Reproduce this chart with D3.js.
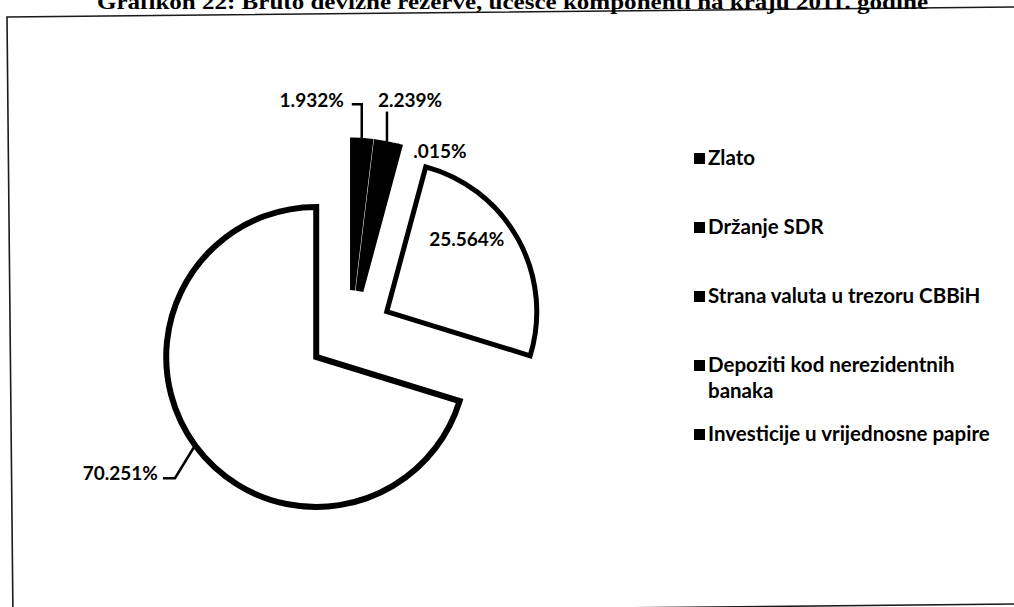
<!DOCTYPE html>
<html>
<head>
<meta charset="utf-8">
<script src="https://cdn.jsdelivr.net/npm/d3@7"></script>
<style>
  body { margin: 0; background: #fff; }
  svg { display: block; }
</style>
</head>
<body>
<div id="chart"></div>
<script>
const width = 1014;
const height = 607;

// data
const categories = ["Zlato", "Držanje SDR", "Strana valuta u trezoru CBBiH", "Depoziti kod nerezidentnih banaka", "Investicije u vrijednosne papire"];
const shares = [1.932, 2.239, 0.015, 25.564, 70.251];
const valueLabels = ["1.932%", "2.239%", ".015%", "25.564%", "70.251%"];
const legendLines = [["Zlato"], ["Držanje SDR"], ["Strana valuta u trezoru CBBiH"], ["Depoziti kod nerezidentnih", "banaka"], ["Investicije u vrijednosne papire"]];
const sliceFill = ["#000", "#000", "#000", "#fff", "#fff"];
const title = "Grafikon 22: Bruto devizne rezerve, učešće komponenti na kraju 2011. godine";

const cx = 350, cy = 332;
const radius = 150;
const explode = 42;

// where each label sits relative to the rim point at the slice's mid angle
// (or to the slice's own centre for the label drawn inside)
const labelLayout = [
  {dx: -18, dy: -31, anchor: "end", leader: [[0, -34], [-10, -34]]},
  {dx: -9, dy: -35, anchor: "start", leader: [[0, -30]]},
  {dx: 13, dy: 13, anchor: "start", leader: null},
  {dx: 80, dy: -66, anchor: "middle", leader: null, inside: true},
  {dx: -36, dy: 33, anchor: "end", leader: [[-19, 31], [-31, 31]]}
];

const svg = d3.select("#chart").append("svg")
  .attr("width", width)
  .attr("height", height);

// scanned page frame, slightly skewed
svg.append("rect")
  .attr("x", 7).attr("y", 17)
  .attr("width", 1040).attr("height", 597)
  .attr("transform", "rotate(-0.57, 7, 17)")
  .attr("fill", "none")
  .attr("stroke", "#1a1a1a")
  .attr("stroke-width", 1.6);

svg.append("text")
  .attr("x", 97).attr("y", 9)
  .attr("font-family", "Liberation Serif, serif")
  .attr("font-weight", "bold")
  .attr("font-size", 22)
  .attr("textLength", 831)
  .attr("lengthAdjust", "spacingAndGlyphs")
  .text(title);

const pie = d3.pie().sort(null).value(d => d);
const arcs = pie(shares);
const arc = d3.arc().innerRadius(0).outerRadius(radius);

function offsetOf(a) {
  const mid = (a.startAngle + a.endAngle) / 2;
  return [cx + explode * Math.sin(mid), cy - explode * Math.cos(mid)];
}
function rimPoint(a) {
  const mid = (a.startAngle + a.endAngle) / 2;
  const [ox, oy] = offsetOf(a);
  const r = radius + 2;
  return [ox + r * Math.sin(mid), oy - r * Math.cos(mid)];
}

svg.append("g")
  .selectAll("path")
  .data(arcs)
  .join("path")
  .attr("transform", d => `translate(${offsetOf(d)})`)
  .attr("d", arc)
  .attr("fill", (d, i) => sliceFill[i])
  .attr("stroke", "#000")
  .attr("stroke-width", (d, i) => i === 4 ? 6 : 5)
  .attr("stroke-linejoin", "miter");

// leader lines
svg.append("g")
  .selectAll("path")
  .data(arcs.filter((d, i) => labelLayout[i].leader))
  .join("path")
  .attr("fill", "none")
  .attr("stroke", "#000")
  .attr("stroke-width", 2.5)
  .attr("d", d => {
    const p = rimPoint(d);
    const pts = [p].concat(labelLayout[d.index].leader.map(([x, y]) => [p[0] + x, p[1] + y]));
    return d3.line()(pts);
  });

svg.append("g")
  .selectAll("text")
  .data(arcs)
  .join("text")
  .attr("x", d => {
    const base = labelLayout[d.index].inside ? offsetOf(d) : rimPoint(d);
    return base[0] + labelLayout[d.index].dx;
  })
  .attr("y", d => {
    const base = labelLayout[d.index].inside ? offsetOf(d) : rimPoint(d);
    return base[1] + labelLayout[d.index].dy;
  })
  .attr("text-anchor", d => labelLayout[d.index].anchor)
  .attr("font-family", "Lato, sans-serif")
  .attr("font-weight", "bold")
  .attr("font-size", 19)
  .text((d, i) => valueLabels[i]);

// legend
const legendY = d3.scalePoint()
  .domain(categories)
  .range([158, 434]);

const legend = svg.append("g")
  .selectAll("g")
  .data(categories)
  .join("g")
  .attr("transform", d => `translate(694,${legendY(d)})`);

legend.append("rect")
  .attr("x", 0).attr("y", -5)
  .attr("width", 11).attr("height", 11)
  .attr("fill", "#000");

legend.append("text")
  .attr("font-family", "Lato, sans-serif")
  .attr("font-weight", "bold")
  .attr("font-size", 20.5)
  .selectAll("tspan")
  .data((d, i) => legendLines[i])
  .join("tspan")
  .attr("x", 14)
  .attr("y", (d, j) => 7 + j * 26)
  .text(d => d);
</script>
</body>
</html>
